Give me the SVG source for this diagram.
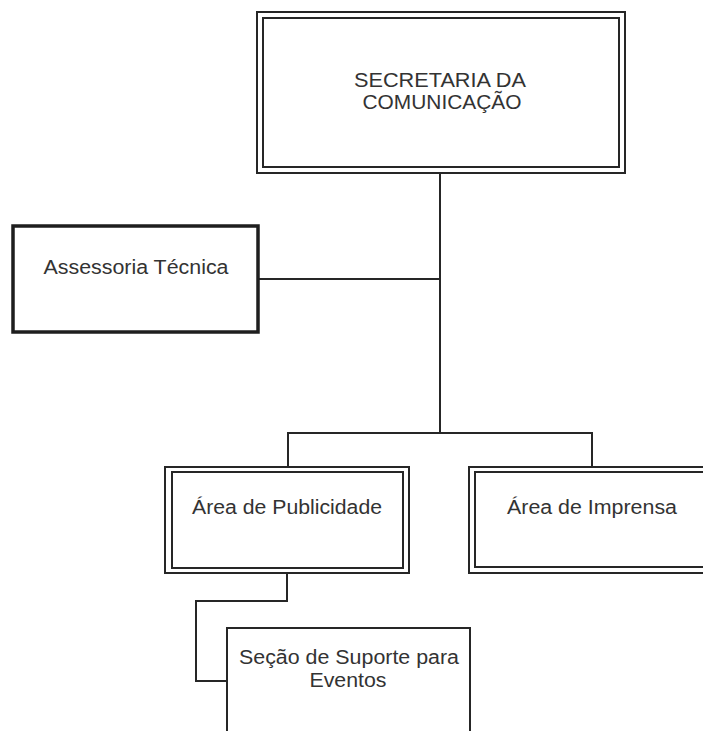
<svg xmlns="http://www.w3.org/2000/svg" width="703" height="731" viewBox="0 0 703 731">
<style>
.b{fill:none;stroke:#262626;stroke-width:2}
.thick{fill:none;stroke:#1e1e1e;stroke-width:3.5}
.c{fill:none;stroke:#262626;stroke-width:2}
text{font-family:"Liberation Sans",Arial,sans-serif;font-size:19.5px;fill:#333;text-anchor:middle}
</style>
<rect width="703" height="731" fill="#fff"/>
<g id="connectors">
<path class="c" d="M440 173V433"/>
<path class="c" d="M258 279H440"/>
<path class="c" d="M288 467V433H592V467"/>
<path class="c" d="M287 573V601H196V681H227"/>
</g>
<g id="secretaria">
<rect class="b" x="257" y="12" width="368" height="161"/>
<rect class="b" x="263" y="18" width="356" height="149"/>
<text x="440" y="87" textLength="172" lengthAdjust="spacingAndGlyphs">SECRETARIA DA</text>
<text x="442" y="109" textLength="159" lengthAdjust="spacingAndGlyphs">COMUNICAÇÃO</text>
</g>
<g id="assessoria">
<rect class="thick" x="13" y="226" width="245" height="106"/>
<text x="136" y="274" textLength="185" lengthAdjust="spacingAndGlyphs">Assessoria Técnica</text>
</g>
<g id="publicidade">
<rect class="b" x="165" y="467" width="244" height="106"/>
<rect class="b" x="172" y="472" width="231" height="96"/>
<text x="287" y="514" textLength="190" lengthAdjust="spacingAndGlyphs">Área de Publicidade</text>
</g>
<g id="imprensa">
<rect class="b" x="469" y="467" width="242" height="106"/>
<rect class="b" x="475" y="472" width="229" height="95"/>
<text x="592" y="514" textLength="170" lengthAdjust="spacingAndGlyphs">Área de Imprensa</text>
</g>
<g id="secao">
<rect class="b" x="227" y="628" width="243" height="120"/>
<text x="349" y="664" textLength="220" lengthAdjust="spacingAndGlyphs">Seção de Suporte para</text>
<text x="348" y="687" textLength="77" lengthAdjust="spacingAndGlyphs">Eventos</text>
</g>
</svg>
